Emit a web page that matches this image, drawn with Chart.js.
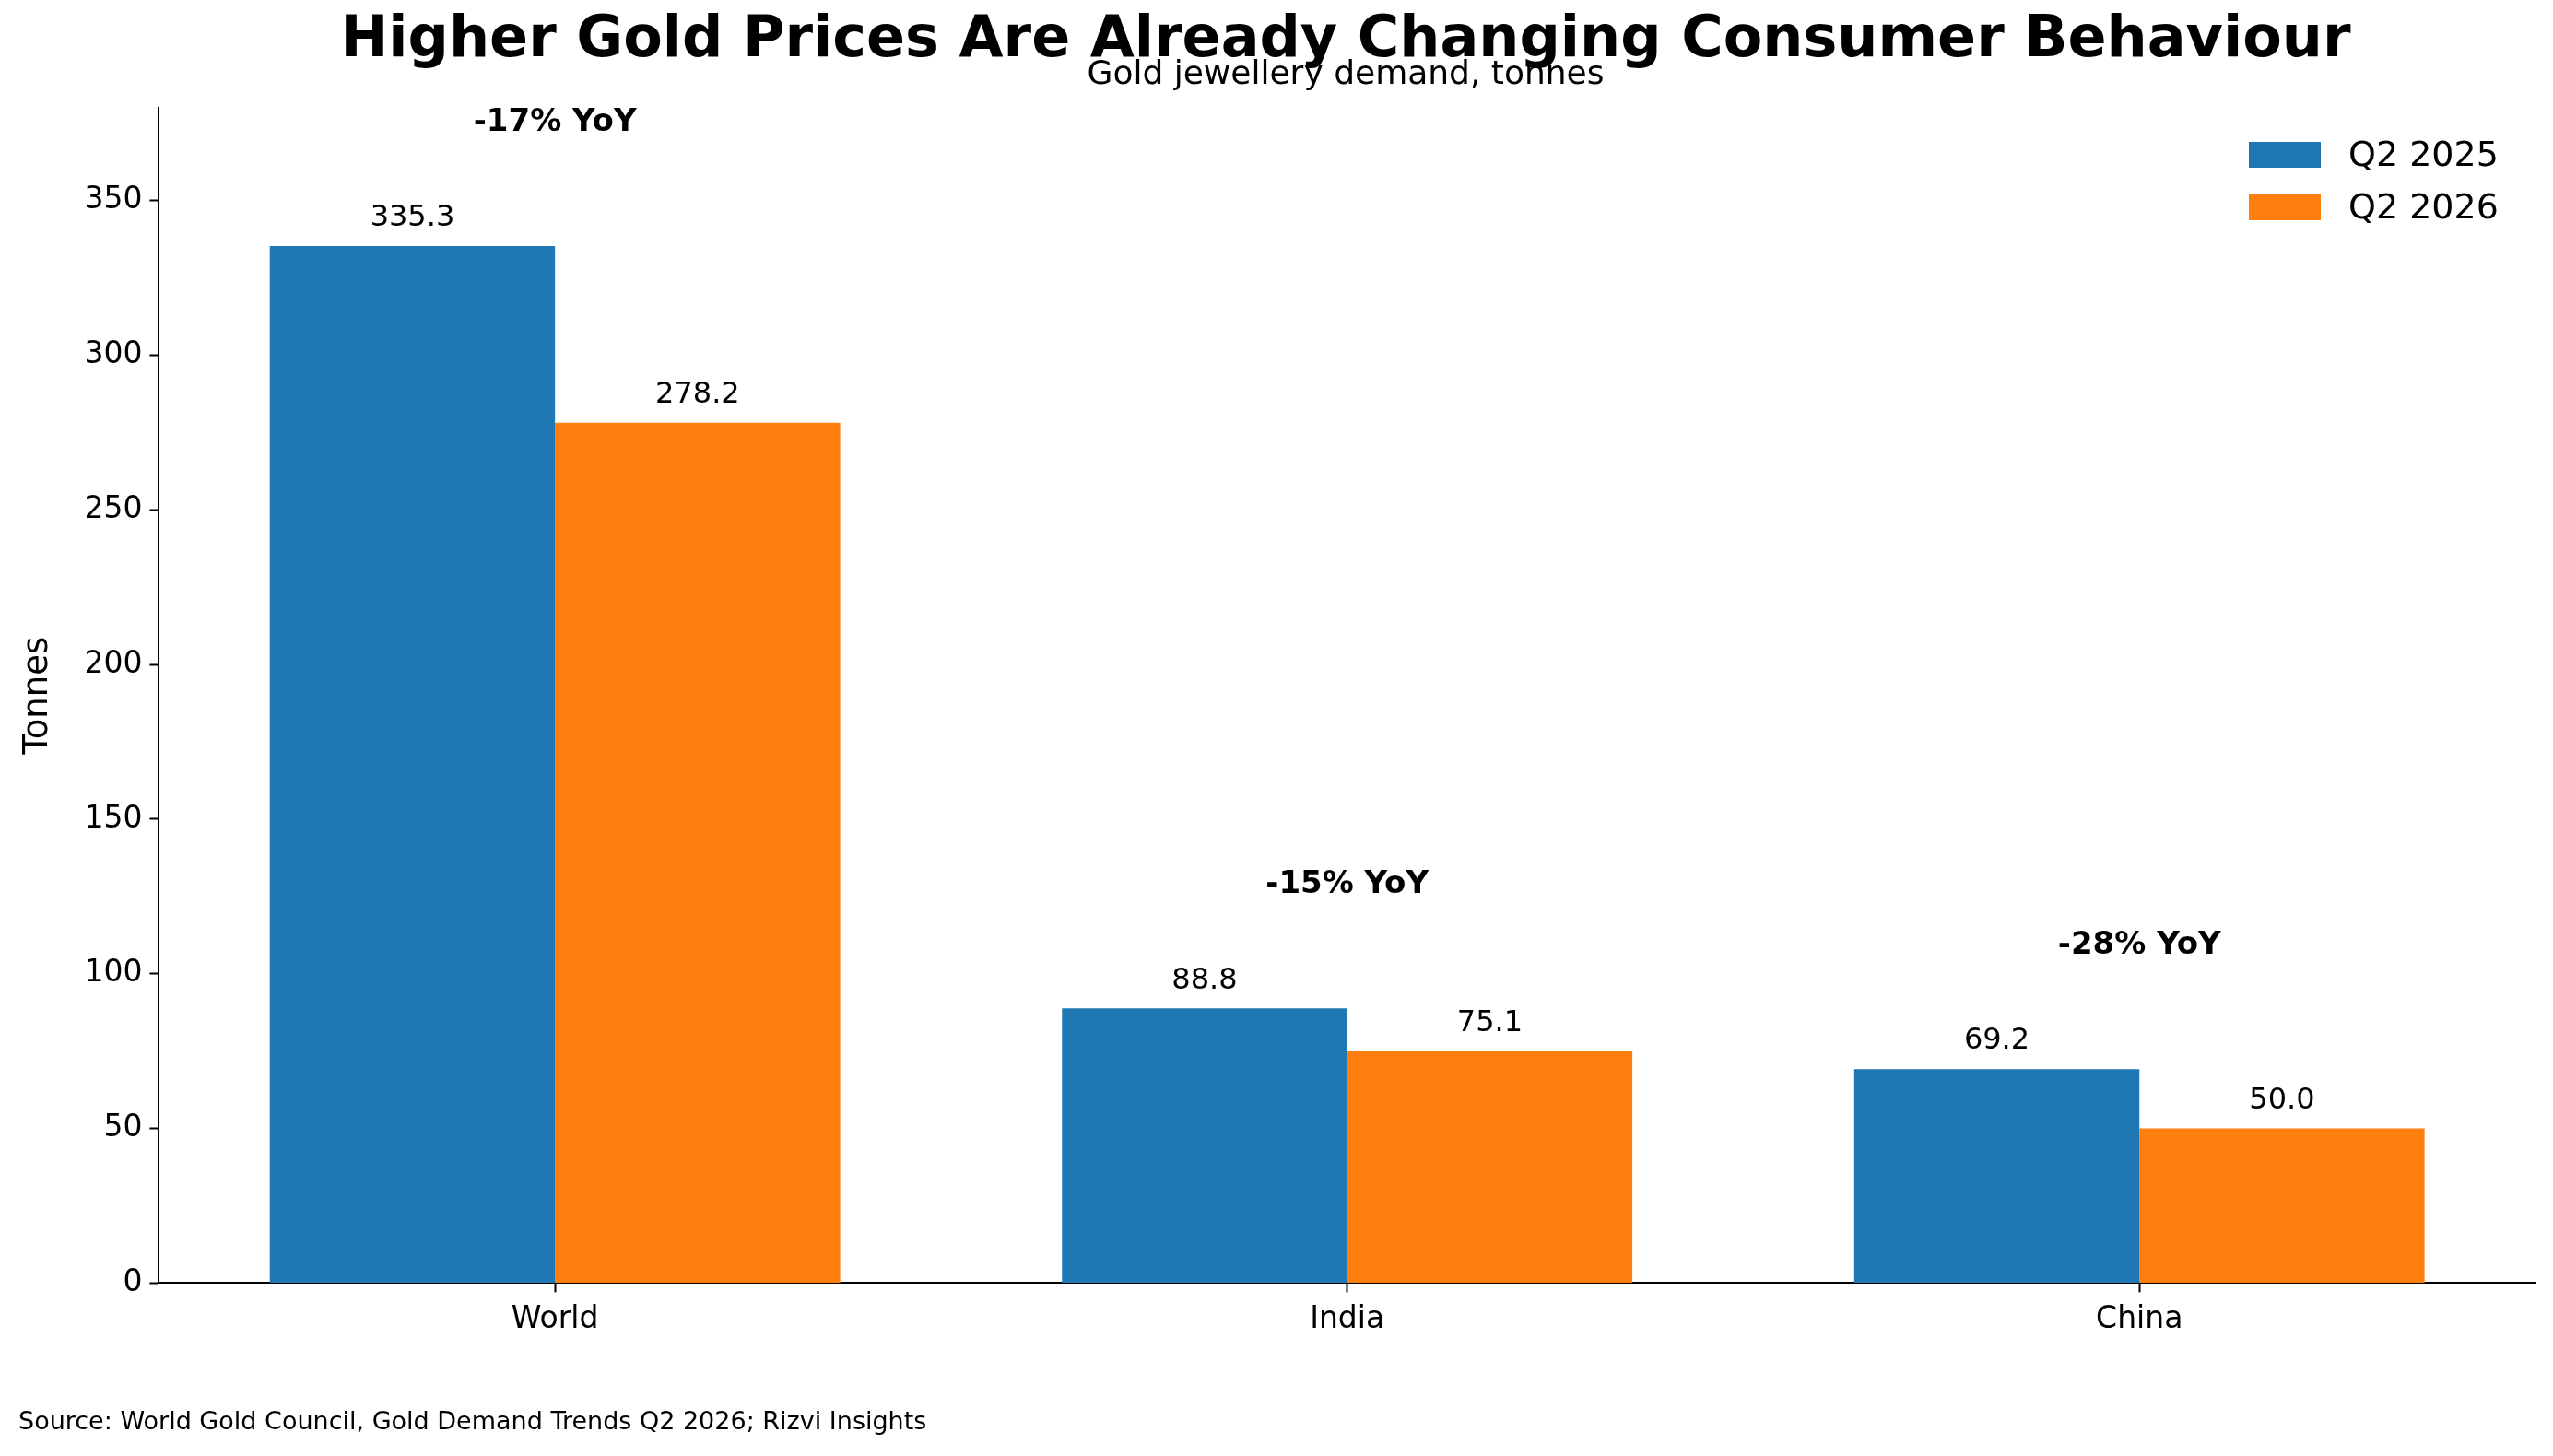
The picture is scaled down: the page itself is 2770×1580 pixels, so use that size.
<!DOCTYPE html>
<html>
<head>
<meta charset="utf-8">
<script src="https://cdn.jsdelivr.net/npm/chart.js@4/dist/chart.umd.min.js"></script>
<style>
  html, body { margin: 0; padding: 0; background: #fff; }
  #wrap { width: 2770px; height: 1580px; position: relative; }
</style>
</head>
<body>
<div id="wrap"><canvas id="chart" width="2770" height="1580"></canvas></div>
<script>
// data
const categories = ["World", "India", "China"];
const q2025 = [335.3, 88.8, 69.2];
const q2026 = [278.2, 75.1, 50.0];
const yoyLabels = ["-17% YoY", "-15% YoY", "-28% YoY"];
const seriesNames = ["Q2 2025", "Q2 2026"];
const colors = ["#1f77b4", "#ff7f0e"];

const FONT = "'DejaVu Sans', sans-serif";

// text, value labels and legend drawn on top of the chart
const overlay = {
  id: "overlay",
  afterDraw(chart) {
    const ctx = chart.ctx;
    const x = chart.scales.x, y = chart.scales.y;
    ctx.save();
    ctx.fillStyle = "#000";
    ctx.textAlign = "center";
    ctx.textBaseline = "middle";
    ctx.font = "bold 62px " + FONT;
    ctx.fillText("Higher Gold Prices Are Already Changing Consumer Behaviour", 1460, 45);
    ctx.font = "36px " + FONT;
    ctx.fillText("Gold jewellery demand, tonnes", 1460, 82);

    // value labels
    ctx.font = "32px " + FONT;
    ctx.textBaseline = "bottom";
    chart.data.datasets.forEach((ds, i) => {
      chart.getDatasetMeta(i).data.forEach((bar, j) => {
        ctx.fillText(ds.data[j].toFixed(1), bar.x, y.getPixelForValue(ds.data[j]) - 14);
      });
    });

    // YoY labels
    ctx.font = "bold 34px " + FONT;
    ctx.textBaseline = "middle";
    categories.forEach((c, j) => {
      const top = Math.max(q2025[j], q2026[j]);
      ctx.fillText(yoyLabels[j], x.getPixelForValue(j), y.getPixelForValue(top + 40));
    });

    // legend
    ctx.textAlign = "left";
    ctx.font = "38px " + FONT;
    seriesNames.forEach((n, i) => {
      const ly = 168 + i * 57;
      ctx.fillStyle = colors[i];
      ctx.fillRect(2440, ly - 14, 78, 28);
      ctx.fillStyle = "#000";
      ctx.fillText(n, 2548, ly + 2);
    });

    // source
    ctx.font = "27px " + FONT;
    ctx.fillText("Source: World Gold Council, Gold Demand Trends Q2 2026; Rizvi Insights", 20, 1544);
    ctx.restore();
  }
};

new Chart(document.getElementById("chart"), {
  type: "bar",
  data: {
    labels: categories,
    datasets: [
      { label: seriesNames[0], data: q2025, backgroundColor: colors[0] },
      { label: seriesNames[1], data: q2026, backgroundColor: colors[1] }
    ]
  },
  options: {
    responsive: false,
    animation: false,
    devicePixelRatio: 1,
    layout: { padding: { top: 117, right: 19, bottom: 118, left: 15 } },
    datasets: { bar: { categoryPercentage: 0.72, barPercentage: 1.0 } },
    plugins: { legend: { display: false }, tooltip: { enabled: false } },
    scales: {
      x: {
        grid: { display: true, drawOnChartArea: false, offset: false, color: "#000", tickLength: 10, tickWidth: 2 },
        border: { color: "#000", width: 2 },
        ticks: { color: "#000", font: { size: 33, family: FONT }, padding: 10 }
      },
      y: {
        min: 0, max: 380,
        afterBuildTicks: s => { s.ticks = [0, 50, 100, 150, 200, 250, 300, 350].map(v => ({ value: v })); },
        grid: { display: true, drawOnChartArea: false, color: "#000", tickLength: 10, tickWidth: 2 },
        border: { color: "#000", width: 2 },
        ticks: { color: "#000", font: { size: 33, family: FONT }, padding: 8 },
        title: { display: true, text: "Tonnes", color: "#000", font: { size: 37, family: FONT }, padding: { bottom: 20 } }
      }
    }
  },
  plugins: [overlay]
});
</script>
</body>
</html>
